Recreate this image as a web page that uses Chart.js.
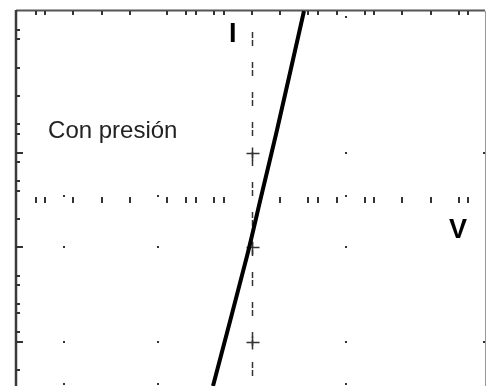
<!DOCTYPE html>
<html>
<head>
<meta charset="utf-8">
<script src="https://cdn.jsdelivr.net/npm/chart.js@4/dist/chart.umd.min.js"></script>
<style>
  html, body { margin: 0; padding: 0; background: #fff; }
  #wrap { position: relative; width: 486px; height: 386px; }
</style>
</head>
<body>
<div id="wrap"><canvas id="c"></canvas></div>
<script>
// trace, in screen divisions (V horizontal, I vertical)
const traceV = [0.553, 0.266, 0.096, -0.053, -0.415];
const traceI = [2.0, 0.741, 0.032, -0.593, -1.968];

// graticule marks that survived the scan
const xMinorTicks = [-2.3, -2.2, -1.9, -1.6, -1.3, -0.9, -0.7, -0.6, -0.4, -0.3, 0, 0.3, 0.6, 0.7, 0.9, 1.2, 1.3, 1.6, 1.9, 2.2, 2.3];
const yMinorTicks = [1.8, 1.7, 1.4, 1.1, 0.8, 0.7, 0.4, 0.2, 0.1, -0.2, -0.8, -0.9, -1.1, -1.2, -1.4, -1.8];
const yMajorTicks = [0.5, -0.5, -1.5];
const dotX = [-2, -2, -2, -2, -1, -1, -1, -1, 1, 1, 1, 1, 1, 1, 2.47, 2.47];
const dotY = [0.04, -0.5, -1.5, -1.95, 0.04, -0.5, -1.5, -1.95, 1.94, 0.5, 0.04, -0.5, -1.5, -1.95, 0.5, -1.5];

const xLabel = 'V';
const yLabel = 'I';
const note = 'Con presión';

const scopePlugin = {
    id: 'scope',
    beforeDatasetsDraw(chart) {
        const { ctx, chartArea: a, scales: { x, y } } = chart;
        ctx.save();

        // frame
        ctx.strokeStyle = '#555';
        ctx.lineWidth = 2;
        ctx.beginPath();
        ctx.moveTo(a.left, a.top - 0.5);
        ctx.lineTo(a.right, a.top - 0.5);
        ctx.stroke();
        ctx.strokeStyle = '#3a3a3a';
        ctx.lineWidth = 2.5;
        ctx.beginPath();
        ctx.moveTo(a.left, a.top - 1);
        ctx.lineTo(a.left, a.bottom);
        ctx.stroke();
        ctx.strokeStyle = '#999';
        ctx.lineWidth = 1;
        ctx.beginPath();
        ctx.moveTo(a.right + 0.5, a.top);
        ctx.lineTo(a.right + 0.5, a.bottom);
        ctx.stroke();

        // ticks along top and along the V axis
        const y0 = y.getPixelForValue(0);
        ctx.strokeStyle = '#333';
        ctx.lineWidth = 2;
        xMinorTicks.forEach(v => {
            const px = Math.round(x.getPixelForValue(v));
            ctx.beginPath();
            ctx.moveTo(px, a.top);
            ctx.lineTo(px, a.top + 4);
            ctx.stroke();
            if (v !== 0) {
                ctx.beginPath();
                ctx.moveTo(px, y0 - 3);
                ctx.lineTo(px, y0 + 3);
                ctx.stroke();
            }
        });

        // ticks along left edge
        yMinorTicks.forEach(v => {
            const py = Math.round(y.getPixelForValue(v));
            ctx.beginPath();
            ctx.moveTo(a.left, py);
            ctx.lineTo(a.left + 4, py);
            ctx.stroke();
        });
        yMajorTicks.forEach(v => {
            const py = Math.round(y.getPixelForValue(v));
            ctx.beginPath();
            ctx.moveTo(a.left, py);
            ctx.lineTo(a.left + 7, py);
            ctx.stroke();
        });

        // grid dots
        ctx.fillStyle = '#333';
        dotX.forEach((v, i) => {
            const px = Math.round(x.getPixelForValue(v));
            const py = Math.round(y.getPixelForValue(dotY[i]));
            ctx.fillRect(px - 1, py - 1, 2, 2);
        });

        // dashed I axis
        const xc = Math.round(x.getPixelForValue(0)) + 0.5;
        ctx.strokeStyle = '#333';
        ctx.lineWidth = 1.5;
        ctx.setLineDash([6, 2, 6, 16]);
        ctx.beginPath();
        ctx.moveTo(xc, a.top + 21);
        ctx.lineTo(xc, a.bottom);
        ctx.stroke();
        ctx.setLineDash([]);

        // plus marks on the I axis
        yMajorTicks.forEach(v => {
            const py = Math.round(y.getPixelForValue(v)) + 0.5;
            ctx.beginPath();
            ctx.moveTo(xc - 6, py);
            ctx.lineTo(xc + 7, py);
            ctx.moveTo(xc, py - 6);
            ctx.lineTo(xc, py + 7);
            ctx.stroke();
        });

        ctx.restore();
    },
    afterDatasetsDraw(chart) {
        const { ctx, scales: { x, y } } = chart;
        ctx.save();
        ctx.textAlign = 'left';
        ctx.textBaseline = 'alphabetic';
        ctx.fillStyle = '#222';
        ctx.font = '24px "Liberation Sans", Arial, sans-serif';
        ctx.fillText(note, x.getPixelForValue(-2.17), y.getPixelForValue(0.656));
        ctx.fillStyle = '#000';
        ctx.font = 'bold 27px "Liberation Sans", Arial, sans-serif';
        ctx.fillText(yLabel, x.getPixelForValue(-0.245), y.getPixelForValue(1.67));
        ctx.fillText(xLabel, x.getPixelForValue(2.095), y.getPixelForValue(-0.4));
        ctx.restore();
    }
};

new Chart(document.getElementById('c').getContext('2d'), {
    type: 'scatter',
    data: {
        datasets: [{
            data: traceV.map((v, i) => ({ x: v, y: traceI[i] })),
            showLine: true,
            borderColor: '#000',
            borderWidth: 4,
            pointRadius: 0,
            tension: 0.3
        }]
    },
    options: {
        responsive: true,
        maintainAspectRatio: false,
        animation: false,
        layout: { padding: { left: 16, top: 11, right: 1, bottom: 0 } },
        plugins: {
            legend: { display: false },
            tooltip: { enabled: false }
        },
        scales: {
            x: { type: 'linear', min: -2.511, max: 2.479, display: false },
            y: { type: 'linear', min: -1.968, max: 2.0, display: false }
        }
    },
    plugins: [scopePlugin]
});
</script>
</body>
</html>
